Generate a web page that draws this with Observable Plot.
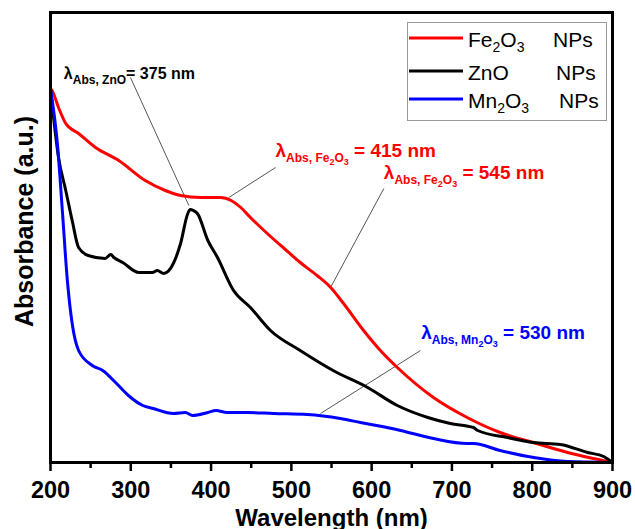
<!DOCTYPE html>
<html><head><meta charset="utf-8">
<script src="https://cdn.jsdelivr.net/npm/d3@7"></script>
<script src="https://cdn.jsdelivr.net/npm/@observablehq/plot@0.6"></script>
<style>
body{margin:0;background:#fff;}
#wrap{position:relative;width:635px;height:529px;font-family:"Liberation Sans",Arial,sans-serif;}
#legend{position:absolute;left:0;top:0;pointer-events:none;}
</style></head><body><div id="wrap"></div>
<script>
// ---- data (wavelength nm, absorbance a.u.) ----
const feWl  = [200,202,210,219,235,256,285,318,343,362,387,412,425,437,449,470,491,511,532,549,565,590,612,632,677,719,760,801,844,900];
const feAbs = [3.74,3.72,3.55,3.39,3.29,3.15,3.02,2.82,2.72,2.67,2.65,2.65,2.62,2.55,2.45,2.29,2.14,2.00,1.87,1.75,1.59,1.32,1.11,0.95,0.65,0.45,0.30,0.20,0.10,0.00];

const znoWl  = [200,210,219,227,235,247,268,275,279,290,310,327,333,341,353,362,371,374,378,383,396,408,428,449,474,511,552,595,632,670,698,727,732,769,802,835,869,889,900];
const znoAbs = [3.74,3.05,2.72,2.42,2.15,2.07,2.04,2.08,2.05,2.00,1.90,1.90,1.92,1.89,1.99,2.19,2.49,2.53,2.52,2.49,2.22,2.05,1.72,1.55,1.32,1.12,0.92,0.75,0.57,0.45,0.39,0.35,0.32,0.25,0.20,0.18,0.10,0.06,0.00];

const mnWl  = [200,209,215,221,227,235,252,265,281,297,315,328,353,368,377,396,406,420,445,478,520,561,586,636,677,719,727,760,802,844,900];
const mnAbs = [3.74,3.15,2.49,1.82,1.39,1.12,0.97,0.92,0.80,0.67,0.57,0.54,0.49,0.50,0.47,0.50,0.52,0.50,0.50,0.49,0.48,0.44,0.40,0.32,0.24,0.19,0.19,0.12,0.05,0.01,0.00];

const seriesNames  = ["Fe2O3", "ZnO", "Mn2O3"];
const seriesColors = ["#ff0000", "#000000", "#0000ff"];

const xTicks = [200,300,400,500,600,700,800,900];
const xMinorTicks = [250,350,450,550,650,750,850];

// annotations
const annotWl  = [216.6, 480.3, 615.2, 661.7];
const annotAbs = [3.84, 3.06, 2.84, 1.24];
const annotColor = ["#000000", "#ff0000", "#ff0000", "#0000ff"];
const annotMainSize = [16, 19, 19, 19];
const annotParts = [
  [["λ",0],["Abs, ZnO",1],["= 375 nm",0]],
  [["λ",0],["Abs, Fe",1],["2",2],["O",1],["3",2],[" = 415 nm",0]],
  [["λ",0],["Abs, Fe",1],["2",2],["O",1],["3",2],[" = 545 nm",0]],
  [["λ",0],["Abs, Mn",1],["2",2],["O",1],["3",2],[" = 530 nm",0]]
];
const leaderWl1  = [299.6, 480.3, 615.2, 660.9];
const leaderAbs1 = [3.85, 2.95, 2.74, 1.12];
const leaderWl2  = [372.3, 422.1, 548.8, 536.3];
const leaderAbs2 = [2.57, 2.65, 1.75, 0.49];

// axis titles (label anchor in data units)
const xTitle = "Wavelength (nm)";
const yTitle = "Absorbance (a.u.)";
const yTitleWl = 178.8, yTitleAbs = 2.41;

// ---- build tables ----
const rows = [];
[[feWl,feAbs],[znoWl,znoAbs],[mnWl,mnAbs]].forEach(([w,a],k)=>{
  w.forEach((v,i)=>rows.push({series:seriesNames[k], wl:v, abs:a[i]}));
});
const annotPlain = annotParts.map(p => p.map(d => d[0]).join(""));
const annots = annotWl.map((w,i)=>({wl:w, abs:annotAbs[i], color:annotColor[i], size:annotMainSize[i], text:annotPlain[i]}));
const leaders = leaderWl1.map((w,i)=>({x1:w,y1:leaderAbs1[i],x2:leaderWl2[i],y2:leaderAbs2[i]}));

const font = '"Liberation Sans", Arial, sans-serif';
const plot = Plot.plot({
  width: 635, height: 529,
  marginLeft: 50, marginRight: 23, marginTop: 12, marginBottom: 67,
  x: {domain: [200, 900]},
  y: {domain: [0, 4.5], axis: null},
  color: {domain: seriesNames, range: seriesColors},
  style: {fontFamily: font, background: "white", overflow: "visible"},
  marks: [
    Plot.link(leaders, {x1:"x1", y1:"y1", x2:"x2", y2:"y2", stroke:"#555", strokeWidth:1}),
    Plot.line(rows, {x:"wl", y:"abs", z:"series", stroke:"series", strokeWidth:3, curve:"monotone-x"}),
    Plot.frame({stroke:"black", strokeWidth:3}),
    Plot.axisX({ticks: xTicks, tickSize: 9, tickPadding: 10, fontSize: 23.5, fontWeight: "bold", label: null, strokeWidth: 2.5}),
    Plot.axisX({ticks: xMinorTicks, tickSize: 6, tickFormat: () => "", label: null, strokeWidth: 2.5}),
    Plot.text([xTitle], {frameAnchor: "bottom", dy: 63, lineAnchor: "bottom", fontSize: 24, fontWeight: "bold"}),
    Plot.text([yTitle], {x: () => yTitleWl, y: () => yTitleAbs, rotate: -90, lineAnchor: "bottom", textAnchor: "middle", fontSize: 25, fontWeight: "bold", clip: false}),
    Plot.text(annots, {x:"wl", y:"abs", text:"text", fill:"color", fontSize:"size", textAnchor:"start", lineAnchor:"bottom", fontWeight:"bold"})
  ]
});
document.getElementById("wrap").appendChild(plot);

// convert annotation plain strings into sub/subsub tspans
const subOffset = [0, 5.5, 8.5];
d3.select(plot).selectAll("text").each(function() {
  const k = annotPlain.indexOf(this.textContent);
  if (k < 0) return;
  const sizes = [annotMainSize[k], 12, 9];
  this.textContent = "";
  let prev = 0;
  for (const [s, lvl] of annotParts[k]) {
    const ts = document.createElementNS("http://www.w3.org/2000/svg", "tspan");
    ts.setAttribute("font-size", sizes[lvl]);
    ts.setAttribute("dy", subOffset[lvl] - subOffset[prev]);
    ts.textContent = s;
    this.appendChild(ts);
    prev = lvl;
  }
});

// ---- legend ----
const lg = d3.select("#wrap").append("svg").attr("id","legend").attr("width",635).attr("height",130);
lg.append("rect").attr("x",407.5).attr("y",22.5).attr("width",199).attr("height",98).attr("fill","white").attr("stroke","#999").attr("stroke-width",1);
const legendRowsY = [38, 71, 99];
const legendLabels = [[["Fe",0],["2",1],["O",0],["3",1]], [["ZnO",0]], [["Mn",0],["2",1],["O",0],["3",1]]];
const legendNpsX = [553, 556, 559];
legendLabels.forEach((parts, k) => {
  const y = legendRowsY[k];
  lg.append("line").attr("x1",409).attr("x2",463).attr("y1",y).attr("y2",y).attr("stroke",seriesColors[k]).attr("stroke-width",3);
  const t = lg.append("text").attr("x",468).attr("y",y+8.5).attr("font-size",21).attr("font-family",font);
  let prev = 0;
  parts.forEach(([s,l]) => {
    t.append("tspan").attr("font-size", l ? 14 : 21).attr("dy", (l?5:0)-(prev?5:0)).text(s);
    prev = l;
  });
  lg.append("text").attr("x",legendNpsX[k]).attr("y",y+8.5).attr("font-size",21).attr("font-family",font).text("NPs");
});
</script>
</body></html>
